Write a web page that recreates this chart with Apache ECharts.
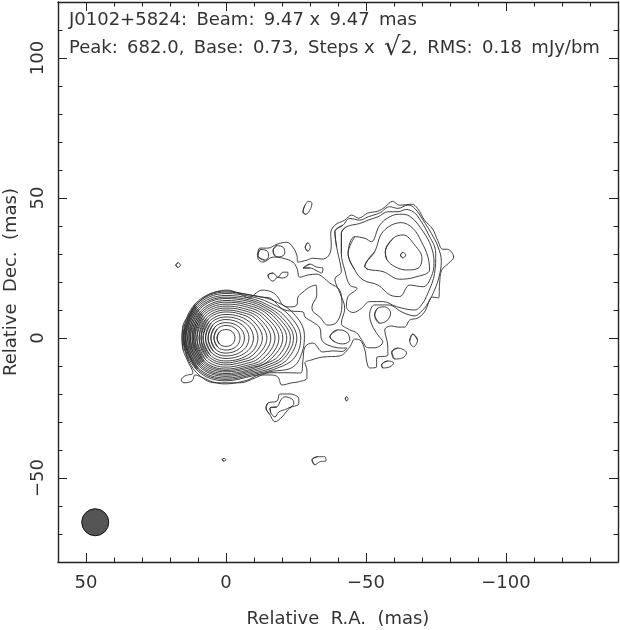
<!DOCTYPE html>
<html>
<head>
<meta charset="utf-8">
<style>html,body{margin:0;padding:0;background:#fff}#c{width:620px;height:630px}</style>
<script src="https://cdn.jsdelivr.net/npm/echarts@6/dist/echarts.min.js"></script>
</head>
<body>
<div id="c"></div>
<script>
// Contours, in mas (Relative R.A., Relative Dec.).
const coreRing1 = [[3.2,0],[2.3,2.2],[0,3.0],[-2.3,2.2],[-3.2,0],[-2.3,-2.2],[0,-3.0],[2.3,-2.2]];
const coreRing2 = [[4.3,0],[3.1,3.2],[0,4.5],[-3.6,3.2],[-5,0],[-3.7,-3],[0,-4.3],[3,-3.2]];
const coreRing3 = [[5.4,0],[3.9,4],[0,5.5],[-4.7,3.9],[-6.6,0],[-4.9,-3.7],[0,-5.4],[3.8,-4]];
const coreRing4 = [[6.4,0],[4.6,4.8],[0,6.6],[-5.9,4.6],[-8.2,0],[-6.1,-4.4],[0,-6.4],[4.5,-4.7]];
const coreRing5 = [[7.3,0],[5.3,5.4],[0,7.5],[-7,5.3],[-9.8,0],[-7.3,-5],[0,-7.3],[5.1,-5.4]];
const coreRing6 = [[8.2,0],[5.9,6],[0,8.4],[-8.2,5.9],[-11.4,0],[-8.5,-5.6],[0,-8.2],[5.7,-6.1]];
const coreRing7 = [[8.9,0],[6.4,6.7],[0,9.3],[-4.5,8.7],[-9.3,6.5],[-13,0],[-9.7,-6],[-4.5,-8.2],[0,-8.9],[6.2,-6.6]];
const coreRing8 = [[9.6,0],[6.9,7.2],[0,10],[-5.1,9.3],[-10.5,7],[-14.6,0],[-10.9,-6.5],[-5.1,-8.8],[0,-9.6],[6.7,-7.1]];
const coreRing9 = [[10.4,0],[7.5,7.7],[0,10.7],[-5.6,10],[-11.5,7.4],[-16,0],[-12,-7],[-5.6,-9.5],[0,-10.4],[7.3,-7.7]];
const coreRing10 = [[11.1,0],[8,8.2],[0,11.4],[-6.1,10.6],[-12.6,7.8],[-17.5,0],[-13.1,-7.5],[-6.1,-10.1],[0,-11.1],[7.8,-8.2]];
const coreRing11 = [[11.6,0],[8.4,8.7],[0,12.1],[-6.6,11.3],[-13.6,8.2],[-18.9,0],[-14.2,-7.9],[-6.6,-10.6],[0,-11.6],[8.1,-8.6]];
const coreRing12 = [[12.1,0],[8.7,9.2],[0,12.8],[-7.1,11.9],[-14.6,8.6],[-20.3,0],[-15.2,-8.2],[-7.1,-11],[0,-12.1],[8.5,-9]];
const coreRing13 = [[12.7,0],[9.1,9.6],[0,13.4],[-7.6,12.5],[-13,10.5],[-18,6.7],[-21.7,0],[-18.7,-6.5],[-14,-9.2],[-7.6,-11.5],[0,-12.7],[8.9,-9.4]];
const coreRing14 = [[13.2,0],[9.5,10.2],[0,14.1],[-8,13.1],[-13.5,11],[-19,7],[-23,0],[-20,-6.8],[-15,-9.6],[-8,-11.9],[0,-13.2],[9.2,-9.8]];
const coreRing15 = [[13.7,0],[9.9,10.5],[0,14.6],[-8.4,13.6],[-14,11.5],[-20,7.3],[-24.1,0],[-21,-7],[-16,-10],[-8.4,-12.3],[0,-13.7],[9.6,-10.1]];
const coreRing16 = [[14.3,0],[10.3,10.9],[0,15.2],[-8.5,14.2],[-14.5,12],[-21,7.8],[-25.3,0],[-22,-7.5],[-17,-10.5],[-8.9,-12.7],[0,-14.3],[10,-10.6]];
const coreRing17 = [[14.6,0],[10.5,11.4],[0,15.9],[-8.9,14.8],[-15.5,12.6],[-22.5,8.2],[-26.7,0],[-24.5,-7],[-19,-10.5],[-9.3,-13.1],[0,-14.8],[10.2,-11]];
const coreRing18 = [[15,0],[10.8,11.8],[0,16.4],[-9.6,15.2],[-16.8,13.4],[-24,8.9],[-28,1],[-27.5,-4],[-24,-10.3],[-16,-12],[-10,-13.4],[0,-15.3],[10.3,-11.5]];
const coreRing19 = [[15.3,0],[11,12.2],[0,16.8],[-6.8,15.7],[-12.8,14.6],[-15.7,14.3],[-17.8,12.5],[-20.3,10.3],[-23.5,9.6],[-27.5,9.3],[-28.2,7.5],[-31,5.7],[-33.5,3.6],[-34.2,-0.7],[-36.4,-2.5],[-41.4,-3.6],[-43.2,-3.6],[-41.5,-4.8],[-38.1,-4.6],[-34.6,-5],[-31,-1.8],[-28.2,-3.2],[-27.5,-7.8],[-26.7,-12.5],[-21,-12.4],[-15.7,-12.4],[-10.5,-14.2],[-5,-16],[3.9,-16],[9.3,-13.5],[13.5,-7.8]];
const outerContour = [[15.7,0],[15.3,4.6],[13.2,8.2],[10.7,11.8],[7.5,14.6],[3.9,16.4],[-0.7,17.1],[-4.3,16],[-8.6,14.3],[-10.3,15.7],[-12.8,17.1],[-16.4,16.4],[-18.5,14.6],[-20.3,11.8],[-22.8,11.1],[-25.3,11.8],[-25.7,14.6],[-27.5,16.4],[-29.9,18.2],[-32.1,18.9],[-32.4,15.3],[-30.7,11.1],[-31,9.6],[-33.5,7.5],[-36.4,4.6],[-39.6,5.7],[-41.4,11.8],[-40.6,17.1],[-37.1,19.6],[-34.6,21.7],[-32.4,22.8],[-29.2,22.5],[-26.4,21.7],[-25.3,25],[-23.9,27.1],[-20.3,28.5],[-16.8,28.9],[-13.2,27.1],[-11.4,28.5],[-11.4,30.3],[-12.1,32.1],[-15,32.1],[-18.2,33.5],[-21.7,34.2],[-23.9,32.4],[-25.3,29.6],[-25.7,27.1],[-28.9,27.8],[-31,28.5],[-34.2,28.2],[-36.6,29.3],[-37.6,33],[-37.4,37.4],[-38.9,40.3],[-42.4,42.1],[-44.9,43.9],[-47.4,42.8],[-50.6,44.6],[-54.2,45.3],[-56.7,46.7],[-59.5,48.8],[-62,47.4],[-66.3,47.8],[-68.4,46.3],[-70.9,42.1],[-73.8,38.9],[-75.6,34.9],[-77.4,31.7],[-79.1,31.7],[-81.3,28.9],[-79.5,26.7],[-77,24.2],[-76.3,19.6],[-75.9,14.3],[-73.8,14.6],[-70.9,9.3],[-68.4,7.1],[-65.6,6.4],[-63.8,3.9],[-61.3,3.9],[-59.2,4.3],[-56.7,2.9],[-57.8,-3.2],[-57.8,-6.1],[-53.8,-7.1],[-53.8,-10.3],[-51.3,-10.7],[-50.3,-8.6],[-49.6,-4.3],[-47.8,-0.7],[-46,-0.4],[-44.2,-3.2],[-40.6,-6.4],[-34.6,-6.8],[-30.7,-7.8],[-28.2,-8.9],[-28.9,-11.4],[-28.9,-14.3],[-25.7,-15.7],[-23.5,-16],[-20,-16.8],[-18.5,-13.9],[-15.7,-13.2],[-12.1,-13.2],[-7.8,-15],[0.4,-16.4],[4.6,-15.7],[8.9,-13.9],[11.1,-13.2],[12.1,-15.3],[15,-16],[16,-15],[14.6,-13.5],[11.8,-12.5],[13.5,-8.6],[15.3,-4.3]];
const jetLevel2 = [[-38.9,38],[-39.5,32.6],[-40.9,26.1],[-41.2,23.7],[-38.9,21],[-40.7,16],[-42.4,10.6],[-41.2,5.3],[-44.2,2.9],[-46.7,1.8],[-48.9,-1.4],[-50.6,-3.5],[-53.1,-3.5],[-56,-1.4],[-54.2,1.1],[-52.1,4.7],[-51.3,8.3],[-53.1,11.8],[-57.9,11.8],[-63.2,9.1],[-67.4,7.9],[-69.9,9.6],[-72.1,12.4],[-74.5,17.2],[-76.1,21.9],[-76.9,27.3],[-75.7,32.6],[-73.3,37.4],[-70.4,42.1],[-67.4,46.3],[-65,47.5],[-61.4,46.3],[-58.5,46.9],[-54.9,44.7],[-50.8,43.3],[-47.8,42.1],[-44.2,42.7],[-41.8,40.3]];
const jetLevel3 = [[-41.2,37.4],[-41.2,30.2],[-42.4,24.3],[-44.2,18.9],[-46.8,17.7],[-43.6,14.8],[-43,11.2],[-45.4,9.1],[-48.4,10.6],[-51.3,13],[-56.1,13],[-60.9,11.2],[-67.4,10],[-69.8,11.8],[-72.1,16],[-74.5,23.1],[-74.9,30.2],[-72.1,37.4],[-68.6,43.3],[-66.8,45.1],[-64.4,45.9],[-61.4,45.1],[-57.9,45.1],[-54.3,43.3],[-50.8,42.1],[-47.8,40.9],[-43,39.7]];
const jetLevel4 = [[-43.6,30.2],[-46,36.2],[-49.6,35.6],[-51.9,34.4],[-54.9,40.3],[-58.5,43.3],[-62,44.2],[-65.6,43.5],[-70.4,38],[-73.3,32.6],[-74.3,26.7],[-73.3,21.9],[-70.4,18.3],[-65.6,18.9],[-62,14.8],[-58.5,15.4],[-54.3,18.9],[-49,20.7],[-46,24.3]];
const jetLevel5 = [[-49.6,25.5],[-53.1,30.8],[-56.1,38],[-62.6,41.2],[-66.8,39.1],[-69.8,34.4],[-72.1,29],[-72.7,24.3],[-67.4,21.7],[-62,21],[-56.1,23.7],[-50.8,24.5]];
const jetLevel6 = [[-56.9,30.8],[-59.7,35.6],[-63.2,36.8],[-67.4,33.2],[-70,28.4],[-68.6,24.9],[-64.4,24.3],[-60.3,25.5],[-57.5,27.9]];
const jetPeak = [[-62.3,29.6],[-63.2,30.6],[-64.2,29.6],[-63.2,28.6]];
const holeClumpA = [[-11.3,29.5],[-12.3,31.6],[-14.8,31],[-15.2,29.2],[-13.8,27.8]];
const holeClumpB = [[-16.8,31.2],[-18.2,33],[-20.5,32.3],[-21,30.3],[-19.2,29],[-17.5,29.3]];
const holeBridge = [[-27.5,25],[-30,26.4],[-32.4,25.3],[-34.6,25],[-34.2,23.2],[-32.4,24],[-30,25]];
const holeGapA = [[-37.1,0.4],[-39.9,2.9],[-43.1,2.1],[-44.2,-0.7],[-41.7,-2.1],[-38.9,-1.4]];
const holeGapB = [[-53.1,8.2],[-54.2,10.7],[-56.7,11.1],[-58.8,8.9],[-57.4,6.1],[-54.9,5.3]];
const islandNorth = [[-27.5,44.9],[-28.2,47.4],[-29.6,48.8],[-30.7,48.1],[-29.9,45.6],[-28.5,44.2]];
const islandSmall = [[-28.3,32.4],[-29.2,34],[-30.1,32.4],[-29.2,31]];
const islandEight = [[-15,22.5],[-16.8,23.2],[-18.5,21.7],[-20.3,23.5],[-22.1,23.5],[-22.1,22.5],[-20,21.4],[-18.5,21.7],[-16.8,20.3],[-15.3,21.4]];
const islandEastA = [[-66.7,1.4],[-68.4,-0.7],[-67,-3.2],[-65.6,-1.1]];
const islandEastB = [[-59.2,-5],[-61.3,-3.6],[-64.5,-5.3],[-63.1,-7.1],[-60.2,-7.5]];
const islandEastC = [[-55.6,-9.6],[-57.8,-8.2],[-59.9,-8.9],[-58.5,-10.3],[-56,-10.7]];
const islandSouthOuter = [[-14.3,-25],[-15,-23.2],[-18.2,-22.5],[-19.3,-20],[-22.8,-20],[-26,-21.7],[-26,-23.5],[-22.8,-25],[-20,-28.2],[-17.5,-29.9],[-15.7,-27.4]];
const islandSouthInner = [[-15.7,-25],[-18.2,-24.6],[-19.6,-22.1],[-21,-21],[-23.9,-22.1],[-24.2,-23.5],[-21.7,-25.3],[-18.9,-26.4],[-17.5,-28.2],[-16,-26.7]];
const islandDot = [[-42.6,-21.6],[-43.1,-21],[-43.6,-21.6],[-43.1,-22.5]];
const islandLow = [[-30.7,-43.5],[-32.8,-42.4],[-35.3,-42.4],[-35.7,-43.9],[-33.5,-44.2],[-31.7,-45.3]];
const islandWest = [[17.9,26],[17.1,26.9],[16.3,26],[17.1,25.2]];
const islandBelow = [[1.4,-43.5],[0.7,-43],[0,-43.5],[0.7,-44]];
const beamPosition = [[46.7,-65.8]];

const xTickLabels = [50, 0, -50, -100];
const yTickLabels = [100, 50, 0, -50];
const titleLine1 = 'J0102+5824: \u2009Beam: \u20099.47 x \u20099.47 \u2009mas';
const titleLine2a = 'Peak: \u2009682.0, \u2009Base: \u20090.73, \u2009Steps x \u2009';
const titleLine2b = '2, \u2009RMS: \u20090.18 \u2009mJy/bm';
const xAxisTitle = 'Relative  R.A.  (mas)';
const yAxisTitle = 'Relative  Dec.  (mas)';

const contours = [coreRing1,coreRing2,coreRing3,coreRing4,coreRing5,coreRing6,coreRing7,coreRing8,coreRing9,coreRing10,
  coreRing11,coreRing12,coreRing13,coreRing14,coreRing15,coreRing16,coreRing17,coreRing18,coreRing19,outerContour,
  jetLevel2,jetLevel3,jetLevel4,jetLevel5,jetLevel6,jetPeak,holeClumpA,holeClumpB,holeBridge,holeGapA,holeGapB,
  islandNorth,islandSmall,islandEight,islandEastA,islandEastB,islandEastC,islandSouthOuter,islandSouthInner,
  islandDot,islandLow,islandWest,islandBelow];

const FONT = 'DejaVu Sans';
const INK = '#333';
const frameLine = {show:true, onZero:false, lineStyle:{color:'#222', width:1.4}};
const fmt = v => String(v).replace('-', '\u2212');
const rect = {left:58, top:2, width:560, height:560, containLabel:false, outerBoundsMode:'none'};

function minorAxis(min, max, position, grid){
  return {type:'value', gridIndex:grid, min, max, interval:10, position,
    axisLine:frameLine, splitLine:{show:false}, axisLabel:{show:false},
    axisTick:{show:true, inside:true, length:4.5, lineStyle:{color:'#222', width:1}}};
}
function majorAxis(min, max, position, values, labels, extra){
  return Object.assign({type:'value', gridIndex:1, min, max, position,
    axisLine:{show:false, onZero:false}, splitLine:{show:false},
    axisTick:{show:true, inside:true, length:9, customValues:values, lineStyle:{color:'#222', width:1}},
    axisLabel: labels ? Object.assign({show:true, customValues:values, formatter:fmt, color:INK,
      fontFamily:FONT, fontSize:18, hideOverlap:false, showMinLabel:true, showMaxLabel:true}, labels) : {show:false}
  }, extra||{});
}

const series = contours.map(c => ({
  type:'line', xAxisIndex:0, yAxisIndex:0, data:[c[c.length-1]].concat(c, [c[0], c[1]]),
  smooth:0.38, showSymbol:false, symbol:'none', silent:true, animation:false,
  lineStyle:{color:'#2e2e2e', width:0.9}
}));
series.push({type:'scatter', xAxisIndex:0, yAxisIndex:0, data:beamPosition, symbol:'circle', symbolSize:27,
  silent:true, animation:false, itemStyle:{color:'#555', opacity:1, borderColor:'#111', borderWidth:1}});

const chart = echarts.init(document.getElementById('c'), null, {renderer:'canvas'});
chart.setOption({
  animation:false,
  backgroundColor:'#fff',
  grid:[Object.assign({}, rect), Object.assign({}, rect)],
  xAxis:[
    Object.assign(minorAxis(-140, 60, 'bottom', 0), {inverse:true}),
    Object.assign(minorAxis(-140, 60, 'top', 0), {inverse:true}),
    majorAxis(-140, 60, 'bottom', xTickLabels, {margin:12}, {inverse:true, name:xAxisTitle, nameLocation:'middle', nameGap:48,
      nameTextStyle:{color:INK, fontFamily:FONT, fontSize:18}}),
    majorAxis(-140, 60, 'top', xTickLabels, null, {inverse:true})
  ],
  yAxis:[
    minorAxis(-80, 120, 'left', 0),
    minorAxis(-80, 120, 'right', 0),
    majorAxis(-80, 120, 'left', yTickLabels, {margin:11, rotate:90}, {name:yAxisTitle, nameLocation:'middle', nameGap:38,
      nameTextStyle:{color:INK, fontFamily:FONT, fontSize:18}}),
    majorAxis(-80, 120, 'right', yTickLabels, null)
  ],
  title:[
    {text:titleLine1, left:69, top:11, textStyle:{color:INK, fontFamily:FONT, fontSize:18, fontWeight:'normal'}, padding:0},
    {text:'{a|'+titleLine2a+'}{r|\u221A}{a|'+titleLine2b+'}', left:69, top:35, padding:0,
      textStyle:{fontWeight:'normal', rich:{a:{color:INK, fontFamily:FONT, fontSize:18, fontWeight:'normal'}, r:{color:INK, fontFamily:FONT, fontSize:26, fontWeight:'normal'}}}}
  ],
  series
});
</script>
</body>
</html>
